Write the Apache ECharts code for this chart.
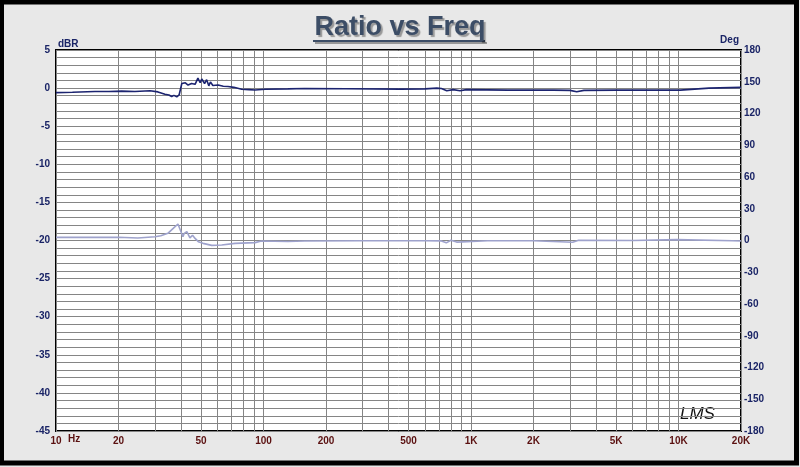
<!DOCTYPE html>
<html>
<head>
<meta charset="utf-8">
<script src="https://cdn.jsdelivr.net/npm/echarts@6/dist/echarts.min.js"></script>
<style>
  html, body { margin: 0; padding: 0; background: #e8e8e8; }
  #chart { width: 800px; height: 467px; }
</style>
</head>
<body>
<div id="chart"></div>
<script>
// magnitude (dBR, left axis)
const magFreq = [10, 12, 15.4, 18, 20.7, 24, 28.4, 31, 33.5, 35,
  36.1, 37, 38.2, 39.2, 40.4, 42, 43.3, 45, 46.8, 48.3,
  49.5, 50.4, 52, 53.2, 54.5, 55.5, 57, 60.4, 64, 67.4,
  72, 78.5, 85, 91, 102, 131, 158, 250, 455, 600,
  684, 720, 764, 820, 885, 950, 1500, 2500, 3000, 3231,
  3500, 5000, 8000, 10200, 10400, 14000, 20000]
const magDb = [-0.6, -0.55, -0.45, -0.45, -0.4, -0.45, -0.35, -0.5, -0.8, -0.9,
  -1.1, -0.95, -1.15, -0.9, 0.6, 0.7, 0.4, 0.6, 0.5, 1.3,
  0.7, 1.2, 0.6, 1.1, 0.3, 0.8, 0.35, 0.4, 0.25, 0.2,
  0.1, -0.15, -0.2, -0.25, -0.15, -0.1, -0.05, -0.08, -0.13, -0.1,
  0.0, -0.05, -0.35, -0.2, -0.35, -0.2, -0.26, -0.26, -0.3, -0.47,
  -0.3, -0.27, -0.27, -0.26, -0.05, 0.0, 0.1]

// phase (Deg, right axis)
const phFreq = [10, 14.3, 20, 24.8, 30, 32, 34.6, 36.5, 38.7, 40.9,
  41.5, 42.7, 44.2, 45.5, 46.8, 48.5, 51.1, 56.3, 62.9, 72.9,
  91, 97.8, 131, 158, 300, 600, 720, 760, 800, 853, 1200,
  2000, 3090, 3300, 6030, 9800, 18200, 20000]
const phDeg = [3, 3, 3, 2.4, 3.5, 4.5, 6.8, 11, 15.6, 3.6,
  6.8, 8.4, 2.5, 5, 2, -1.1, -2.7, -4.6, -4.3, -2.7,
  -2, -0.5, -1, -0.5, -0.3, -0.2, -0.4, -2.2, 0.2, -1.5, -0.2,
  -0.3, -1.7, 0.2, 0, 0.8, -0.2, -0.5]

const xLabelFreqs = [10, 20, 50, 100, 200, 500, 1000, 2000, 5000, 10000, 20000]
const xGridFreqs = []
for (let d = 10; d <= 10000; d *= 10) {
  for (let m = 1; m <= 9; m++) {
    if (d * m <= 20000) xGridFreqs.push(d * m)
  }
}
xGridFreqs.push(20000)

const FONT = "'Liberation Sans', Arial, sans-serif"
const GRID = '#858585'

let chart = echarts.init(document.getElementById('chart'))
let option = {
  backgroundColor: '#e8e8e8',
  animation: false,
  title: {
    text: 'Ratio vs Freq',
    left: 'center',
    top: 9,
    textStyle: {
      fontFamily: "'Liberation Sans Narrow', 'Arial Narrow', " + FONT,
      fontSize: 27,
      fontWeight: 'bold',
      color: '#3c4d66',
      textShadowColor: 'rgba(0,0,0,0.35)',
      textShadowOffsetX: 2,
      textShadowOffsetY: 2,
      textShadowBlur: 1
    }
  },
  grid: {
    left: 56,
    right: 59,
    top: 50,
    bottom: 36,
    show: true,
    backgroundColor: '#fff',
    borderColor: '#000',
    borderWidth: 2
  },
  xAxis: {
    type: 'log',
    logBase: 10,
    min: 10,
    max: 20000,
    axisLine: { show: false },
    axisTick: { show: false, customValues: xGridFreqs },
    axisLabel: {
      customValues: xLabelFreqs,
      margin: 5,
      fontFamily: FONT,
      fontSize: 10,
      fontWeight: 'bold',
      color: '#5a1010',
      formatter: function (v) {
        return v >= 1000 ? (v / 1000) + 'K' : String(v)
      }
    },
    splitLine: { show: true, lineStyle: { color: GRID, width: 1 } }
  },
  yAxis: [{
    type: 'value',
    min: -45,
    max: 5,
    interval: 5,
    name: 'dBR',
    nameLocation: 'end',
    nameGap: 1,
    nameTextStyle: { align: 'left', padding: [0, 0, 0, 2], fontFamily: FONT, fontSize: 10, fontWeight: 'bold', color: '#1a2466' },
    axisLine: { show: false },
    axisTick: { show: false },
    axisLabel: { margin: 6, fontFamily: FONT, fontSize: 10, fontWeight: 'bold', color: '#1a2466' },
    splitLine: { show: true, lineStyle: { color: GRID, width: 1 } },
    minorTick: { show: false, splitNumber: 5 },
    minorSplitLine: { show: true, lineStyle: { color: GRID, width: 1 } }
  }, {
    type: 'value',
    position: 'right',
    min: -180,
    max: 180,
    interval: 30,
    name: 'Deg',
    nameLocation: 'end',
    nameGap: -3,
    nameTextStyle: { align: 'right', padding: [0, 2, 0, 0], fontFamily: FONT, fontSize: 10, fontWeight: 'bold', color: '#1a2466' },
    axisLine: { show: false },
    axisTick: { show: false },
    axisLabel: { margin: 3, fontFamily: FONT, fontSize: 10, fontWeight: 'bold', color: '#1a2466' },
    splitLine: { show: false }
  }],
  series: [{
    name: 'Magnitude',
    type: 'line',
    yAxisIndex: 0,
    showSymbol: false,
    lineStyle: { color: '#1c2470', width: 1.6 },
    data: magFreq.map((f, i) => [f, magDb[i]]),
    z: 3
  }, {
    name: 'Phase',
    type: 'line',
    yAxisIndex: 1,
    showSymbol: false,
    lineStyle: { color: '#9ea2cc', width: 1.6 },
    data: phFreq.map((f, i) => [f, phDeg[i]]),
    z: 2
  }],
  graphic: [{
    type: 'line',
    shape: { x1: 313, y1: 41, x2: 485, y2: 41 },
    style: { stroke: '#3c4d66', lineWidth: 2, shadowColor: 'rgba(0,0,0,0.35)', shadowOffsetX: 2, shadowOffsetY: 2 }
  }, {
    type: 'text',
    left: 68,
    top: 434,
    style: { text: 'Hz', font: 'bold 10px ' + FONT, fill: '#5a1010' }
  }, {
    type: 'text',
    left: 680,
    top: 406,
    style: { text: 'LMS', font: 'italic 17px ' + FONT, fill: '#111' }
  }, {
    type: 'rect',
    shape: { x: 1.5, y: 2, width: 795, height: 461 },
    style: { fill: null, stroke: '#000', lineWidth: 5 },
    z: 100
  }]
}
chart.setOption(option)
</script>
</body>
</html>
